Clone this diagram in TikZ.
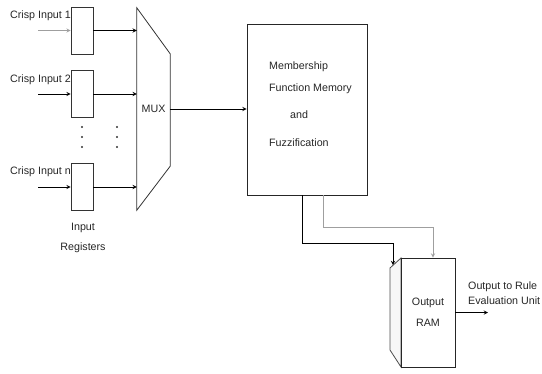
\documentclass[tikz,border=0pt]{standalone}
\usepackage{fontspec}
\setmainfont{Liberation Sans}
\usetikzlibrary{arrows,positioning,calc}

\begin{document}
\begin{tikzpicture}[
    x=1pt, y=-1pt,
    every node/.style={font=\fontsize{10.7}{12.5}\selectfont, text=black!85},
    reg/.style={rectangle, draw=black!80, line width=0.7pt, minimum width=22pt, minimum height=47pt, inner sep=0pt},
    block/.style={rectangle, draw=black!85, line width=0.8pt, inner sep=0pt},
    lbl/.style={inner sep=0pt, align=left},
    arrow/.style={->,>=stealth, line width=0.9pt},
    feed/.style={->,>=stealth, line width=0.9pt, draw=gray!75}
]
\useasboundingbox (0,0) rectangle (542,373);

% Input registers
\node[reg] (reg1) at (82,30.5) {};
\node[reg] (reg2) at (82,94) {};
\node[reg] (regn) at (82,187) {};

% Input labels
\node[lbl, anchor=west] (lab1) at (10,16) {Crisp Input 1};
\node[lbl, anchor=west] (lab2) at (10,80) {Crisp Input 2};
\node[lbl, anchor=west] (labn) at (10,172) {Crisp Input n};
\node[lbl, align=center] (regtitle) at (83,238) {Input\\[7pt]Registers};

% Free ends of the inputs
\coordinate (in1) at (38,30.5);
\coordinate (in2) at (38,94);
\coordinate (inn) at (38,187);

% Dots between the registers
\foreach \dx in {82,117}
  \foreach \dy in {127,137,147}
    \fill[black!80] (\dx,\dy) circle (1.2pt);

% MUX
\node[minimum width=33pt, minimum height=202pt, inner sep=0pt] (mux) at (153.5,109) {MUX};
\draw[line width=0.8pt, black!80] (mux.north west) -- ([yshift=-46pt]mux.north east)
    -- ([yshift=44pt]mux.south east) -- (mux.south west) -- cycle;

% Membership function memory
\node[block, minimum width=120pt, minimum height=171pt] (mem) at (307,109.5) {};
\node[lbl, anchor=north west] (memtext) at (269,62) {Membership\\[9.5pt]Function Memory\\[14pt]\hspace{21pt}and\\[16pt]Fuzzification};

% Output RAM
\draw[line width=0.8pt, black!70, fill=gray!6] (428,312.5) ++(-27,-54.5) -- ++(-11,10) -- ++(0,82) -- ++(11,17) -- cycle;
\node[block, minimum width=54pt, minimum height=109pt, align=center] (ram) at (428,312.5) {Output\\[9pt]RAM};
\coordinate (ramside) at (393,265);

% Output
\coordinate (outend) at (488,312.5);
\node[lbl, anchor=west] (outtext) at (468,293) {Output to Rule\\[2pt]Evaluation Unit};

% Arrows into the registers
\draw[feed] (in1) -- (reg1.west);
\draw[arrow] (in2) -- (reg2.west);
\draw[arrow] (inn) -- (regn.west);

% Arrows from registers to MUX
\draw[arrow] (reg1.east) -- (reg1.east -| mux.west);
\draw[arrow] (reg2.east) -- (reg2.east -| mux.west);
\draw[arrow] (regn.east) -- (regn.east -| mux.west);

% MUX to memory, memory to RAM
\draw[arrow] (mux.east) -- (mux.east -| mem.west);
\draw[arrow] ([xshift=-5pt]mem.south) -- ++(0,48) -| (ramside);
\draw[feed] ([xshift=16pt]mem.south) -- ++(0,32) -| ([xshift=5pt]ram.north);
\draw[arrow] (ram.east) -- (outend);

\end{tikzpicture}
\end{document}
